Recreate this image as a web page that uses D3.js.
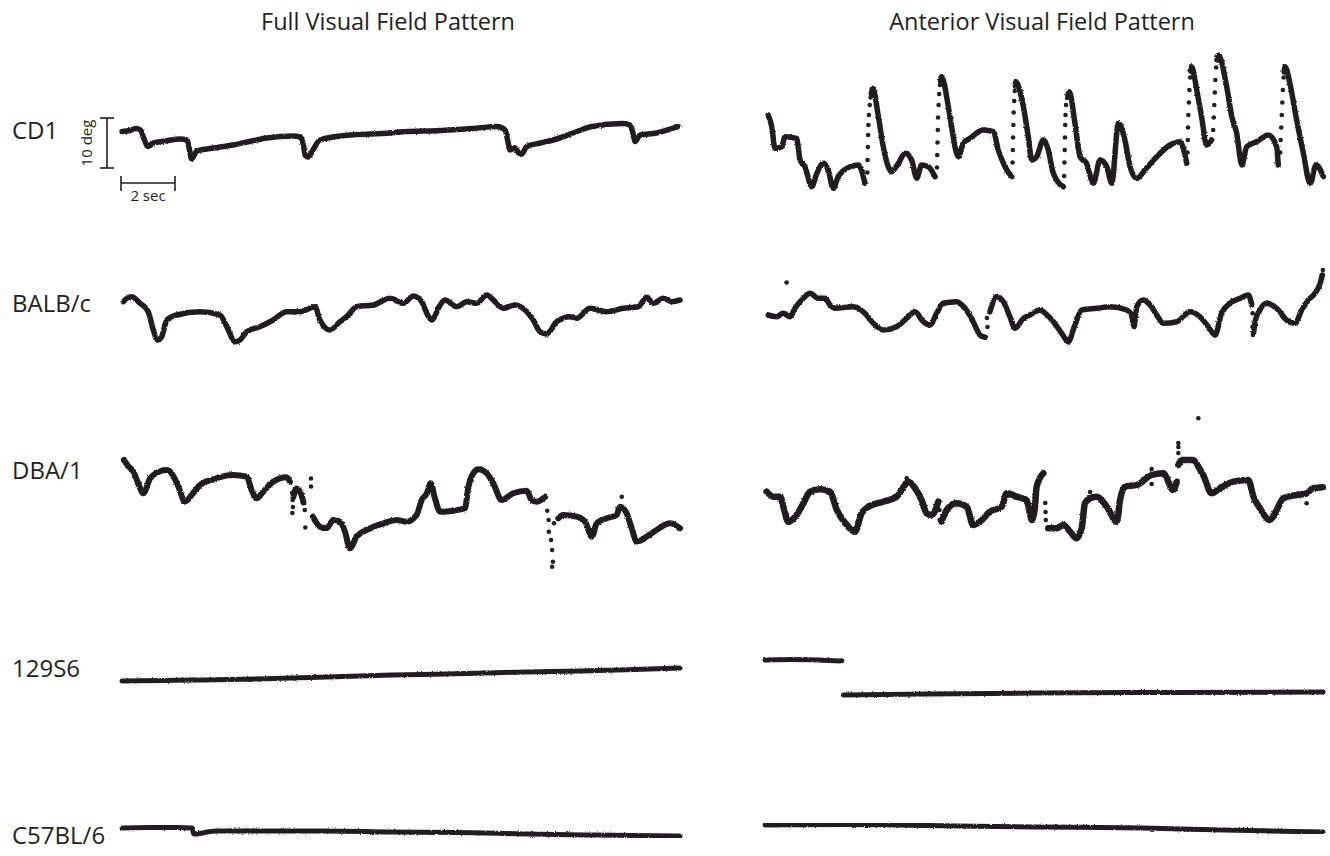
<!DOCTYPE html>
<html>
<head>
<meta charset="utf-8">
<script src="https://cdn.jsdelivr.net/npm/d3@7"></script>
<style>
  html, body { margin: 0; padding: 0; background: #fff; }
  svg { display: block; }
  text { font-family: "Open Sans", "Noto Sans", sans-serif; fill: #231f20; }
</style>
</head>
<body>
<svg id="chart" width="1330" height="856"></svg>
<script>
// Eye position traces (deg) against time (s); null marks a break in the trace.
const panelTitles = ["Full Visual Field Pattern", "Anterior Visual Field Pattern"];
const strains = ["CD1", "BALB/c", "DBA/1", "129S6", "C57BL/6"];
const timeDomain = [0, 20.7];

const cd1Full = [[0,7.7],[0.3,7.9],[0.54,8.3],[0.7,7.9],[0.8,6.5],[0.96,4.7],[1.15,5.4],[1.6,5.8],[2.15,6.2],[2.41,6.0],[2.5,4.0],[2.58,2.2],[2.77,3.8],[3.4,4.4],[4.11,5.0],[4.8,5.8],[5.36,6.4],[6.33,6.8],[6.6,6.6],[6.72,5.0],[6.78,3.0],[6.89,2.6],[7.07,4.0],[7.33,6.0],[8.44,7.0],[9.93,7.4],[10.3,7.6],[11.78,7.9],[13.0,8.3],[13.88,8.7],[14.19,8.0],[14.3,5.5],[14.37,4.0],[14.56,4.4],[14.68,3.5],[14.8,3.2],[14.99,4.7],[15.5,5.4],[16.1,6.2],[16.8,7.6],[17.41,8.7],[18.56,9.3],[18.81,9.0],[18.92,7.5],[19.0,5.7],[19.19,7.0],[19.8,7.4],[20.2,8.0],[20.59,8.7]];
const cd1FullDots = [];

const cd1Anterior = [[0.12,11],[0.25,8.66],[0.37,4.34],[0.62,4.66],[0.74,6.66],[1.17,6.34],[1.3,2],[1.48,0.66],[1.73,-3.34],[1.92,-0.66],[2.16,1.34],[2.34,0],[2.53,-3.66],[2.71,-1.34],[3.15,0.66],[3.46,1],[3.7,-2.66],null,
  [3.94,15.2],[3.99,16.34],[4.2,10.66],[4.38,4.66],[4.69,-0.34],[4.94,1.34],[5.19,3.34],[5.43,2],[5.62,-1.66],[5.8,1],[6.05,0.66],[6.3,-1.34],null,
  [6.5,17.8],[6.54,18.66],[6.79,12.66],[6.91,8.66],[7.16,2.66],[7.34,5.34],[7.59,6.34],[8.09,8],[8.46,7.66],[8.64,4],[8.89,0.66],[9.14,-1.34],null,
  [9.27,16.8],[9.29,17.66],[9.57,12.66],[9.75,6.66],[9.88,2],[10.06,2.66],[10.31,6],[10.49,4],[10.68,-0.66],[11.05,-3.34],null,
  [11.22,15],[11.27,15.66],[11.48,9.34],[11.67,2.66],[11.91,1.34],[12.16,-2.66],[12.41,2],[12.66,0.66],[12.84,-2.66],[13.09,9.34],[13.33,6],[13.52,0.66],[13.77,-1.66],[14.07,0],[14.51,2.66],[15.0,5],[15.37,5.66],[15.62,1.34],null,
  [15.77,19.8],[15.8,20.66],[15.99,16],[16.17,10.66],[16.36,5],[16.54,6],null,
  [16.74,22],[16.79,23],[17.1,16.66],[17.29,10.66],[17.47,7.34],[17.66,1],[17.84,4.66],[18.21,5.66],[18.64,7],[18.95,4.66],[19.01,1],null,
  [19.23,19.6],[19.26,20.66],[19.44,17.34],[19.69,10],[19.94,3.34],[20.19,-2.66],[20.41,1],[20.68,-1.34]];
const cd1AnteriorDots = [[3.79,-0.5],[3.8,2],[3.81,4.6],[3.82,7],[3.83,9],[3.85,11],[3.88,13],[3.91,14.5],
  [6.37,0.5],[6.38,3],[6.39,5.5],[6.4,8],[6.41,10.5],[6.43,13],[6.45,15.2],[6.48,17],
  [9.17,1.5],[9.18,4],[9.19,6.5],[9.2,9],[9.21,11.5],[9.23,13.8],[9.25,15.8],
  [11.08,-1.2],[11.09,1.5],[11.1,4],[11.11,6.5],[11.12,9],[11.13,11],[11.15,13],[11.19,14.4],
  [15.65,3.5],[15.66,6],[15.67,8.5],[15.68,11],[15.7,13.5],[15.72,16],[15.75,18.5],
  [16.6,8],[16.62,10.5],[16.64,13],[16.66,15.5],[16.68,18],[16.71,20.5],
  [19.08,3.5],[19.1,6],[19.12,8.5],[19.14,11],[19.16,13.5],[19.18,16],[19.21,18.5]];

const balbFull = [[0.05,8.66],[0.2,9.4],[0.36,9.66],[0.67,8.34],[0.97,6.66],[1.16,3.0],[1.31,1.0],[1.47,1.66],[1.66,5.0],[2.03,6.0],[2.89,6.66],[3.63,6.0],[3.88,3.66],[4.19,0.66],[4.37,1.0],[4.62,2.66],[5.11,3.66],[5.6,5.0],[6.1,6.66],[6.59,6.66],[7.15,7.66],[7.33,5.0],[7.7,3.0],[8.07,4.66],[8.32,5.66],[8.69,7.66],[9.31,8.0],[9.93,9.34],[10.42,8.34],[10.79,9.8],[11.1,8.66],[11.29,6.34],[11.47,5.0],[11.78,8.0],[11.96,9.0],[12.4,7.66],[12.77,8.66],[13.14,8.34],[13.51,10.0],[13.75,9.0],[14.12,7.34],[14.56,8.0],[14.99,6.66],[15.23,5.0],[15.48,2.66],[15.73,2.2],[16.1,4.66],[16.59,5.66],[16.84,5.34],[17.33,7.34],[17.95,6.66],[18.57,7.34],[19.12,7.66],[19.43,9.54],[19.68,8.34],[20.05,9.34],[20.36,8.66],[20.67,9.0]];
const balbFullDots = [];

const balbAnterior = [[0.12,6.0],[0.43,5.66],[0.68,6.34],[0.93,5.66],[1.11,7.34],[1.42,9.34],[1.67,10.34],[1.97,9.34],[2.22,9.34],[2.41,8.0],[2.59,7.34],[3.27,7.66],[3.7,6.34],[4.01,4.34],[4.38,3.0],[4.88,3.66],[5.25,5.34],[5.56,6.66],[5.86,4.66],[6.11,4.0],[6.36,6.34],[6.6,8.34],[7.1,8.66],[7.41,7.34],[7.71,4.66],[7.96,2.0],[8.15,1.54],null,
  [8.33,6.66],[8.58,9.66],[8.83,8.66],[9.07,5.66],[9.26,3.34],[9.57,5.34],[9.81,6.0],[10.19,7.0],[10.31,6.66],[10.68,4.66],[10.99,2.34],[11.23,0.66],[11.48,4.0],[11.73,7.0],[12.29,7.34],[12.78,7.66],[13.4,7.0],[13.58,6.0],[13.67,3.66],[13.77,7.66],[14.01,9.0],[14.26,8.0],[14.51,6.0],[14.75,4.34],[15.25,4.66],[15.74,6.66],[16.11,5.66],[16.42,3.66],[16.67,2.0],[16.91,6.34],[17.22,8.34],[17.59,9.34],[17.9,10.0],[18.03,8.0],null,
  [18.1,2.5],[18.15,4.66],[18.33,7.0],[18.58,8.34],[18.95,7.34],[19.32,5.0],[19.63,4.34],[19.88,7.0],[20.12,9.0],[20.37,10.34],[20.56,12.34],[20.64,14.0]];
const balbAnteriorDots = [[0.8,12.5],[8.22,5.4],[8.24,3.6],[18.06,6.34],[18.06,3.66],[18.07,2.0],[20.66,15.0]];

const dbaFull = [[0.07,20],[0.23,18.8],[0.42,17.66],[0.6,15.34],[0.79,13.34],[1.04,16.34],[1.29,17.46],[1.66,18],[1.84,17.34],[2.09,14.66],[2.33,11.66],[2.58,13],[2.89,15],[3.38,16.14],[4.12,17],[4.62,16.66],[4.8,14],[4.99,12.34],[5.23,13.66],[5.6,15.66],[6.1,16.54],[6.22,15.66],null,
  [6.35,12.6],[6.45,14.3],[6.55,14.0],[6.67,12.66],[6.72,11.5],null,
  [7.07,8.66],[7.33,6.66],[7.58,6.34],[7.83,8],[8.07,7.66],[8.26,5.66],[8.44,2.34],[8.69,4.66],[9.06,6],[9.68,7.34],[10.17,8],[10.54,7.66],[10.91,9],[11.1,12],[11.29,13.34],[11.43,15.34],[11.59,12.34],[11.78,9.66],[12.27,9.86],[12.7,10.34],[12.83,14.66],[13.01,17.34],[13.2,18.14],[13.51,17.34],[13.75,15.34],[14.06,12],[14.49,13.34],[14.99,13.86],[15.17,12],[15.36,11.66],[15.67,12.66],null,
  [16.16,8.34],[16.34,9],[16.84,8.66],[17.15,7.66],[17.4,4.66],[17.58,7.34],[17.95,8.34],[18.32,9],[18.44,10.66],[18.69,9.34],[18.88,6.34],[19.06,3.66],[19.43,4.66],[19.8,6],[20.3,7.34],[20.67,6.34]];
const dbaFullDots = [[6.3,13.4],[6.32,12],[6.33,10.6],[6.31,9.4],[7.0,16.3],[7.0,14.7],[6.77,10],[6.79,6.5],
  [15.75,9.86],[15.8,8],[15.81,5.66],[15.89,4],[15.93,2],[15.96,-0.34],[15.93,-1.34],[16.0,7.34],[18.51,12.66]];

const dbaAnterior = [[0.06,13.66],[0.31,12.66],[0.56,12.66],[0.68,10.66],[0.86,7.66],[1.17,9],[1.42,11.34],[1.67,13.66],[2.04,14.14],[2.41,13.66],[2.66,10],[3.03,7],[3.33,5.66],[3.58,9.34],[3.83,10.66],[4.38,11.66],[4.88,12.66],[5.06,14],[5.31,15.66],[5.56,14.34],[5.8,12],[5.99,9.34],[6.17,9],[6.42,11.66],null,
  [6.54,7.66],[6.73,10],[7.1,11.34],[7.47,10.66],[7.71,7],[7.96,7.66],[8.33,9.66],[8.77,10.66],[8.95,13.34],[9.32,12.66],[9.69,12],[9.81,9.34],[9.88,8],[10.0,10.66],[10.06,14.66],[10.31,17.34],null,
  [10.49,6.34],[10.8,6.34],[11.05,7],[11.3,5.66],[11.54,4.34],[11.73,6.34],[11.85,11.34],[12.04,12.34],[12.29,12.66],[12.66,10.66],[13.03,7.66],[13.15,12],[13.33,14.66],[13.77,15],[14.32,17],[14.75,17.34],[15.12,14],[15.25,15.66],null,
  [15.31,19],[15.43,20],[15.86,20],[16.05,18.66],[16.23,17],[16.54,13.34],[16.85,14.34],[17.35,15.66],[17.9,16],[18.09,12.66],[18.33,10.34],[18.7,8],[18.95,10],[19.19,12.34],[19.69,13],[20.06,13.34],[20.3,14.34],[20.66,14.54]];
const dbaAnteriorDots = [[5.25,16.34],[6.46,10],[6.47,8],[10.38,11.4],[10.39,9.6],[10.4,8],[15.31,23.4],[15.31,22.6],[15.31,21.4],[16.05,28.34],[14.32,18.2],[14.32,15.2],[12.04,13.6],[20.06,11.34]];

const s129Full = [[0,3.8],[1.5,3.9],[3,4.0],[5,4.2],[7,4.5],[10,5.0],[12,5.2],[15,5.6],[17,5.8],[19,6.1],[20.67,6.4]];
const s129FullDots = [];

const s129Anterior = [[0,8.0],[1.0,8.1],[2.0,8.0],[2.85,7.8],null,[2.9,1.0],[6,1.2],[10,1.4],[15,1.5],[20.67,1.6]];
const s129AnteriorDots = [];

const c57Full = [[0,3.4],[1,3.5],[2,3.5],[2.6,3.4],[2.65,2.2],[3.5,2.8],[5,2.8],[7.5,2.8],[10,2.6],[12.5,2.5],[15,2.2],[17.5,2.0],[20.67,1.8]];
const c57FullDots = [];

const c57Anterior = [[0,4.0],[3,4.1],[6,3.9],[10,3.6],[14,3.4],[17,3.0],[20.67,2.6]];
const c57AnteriorDots = [];

// Assemble rows x panels from the named series above.
const traceTable = [
  [cd1Full, cd1FullDots, cd1Anterior, cd1AnteriorDots],
  [balbFull, balbFullDots, balbAnterior, balbAnteriorDots],
  [dbaFull, dbaFullDots, dbaAnterior, dbaAnteriorDots],
  [s129Full, s129FullDots, s129Anterior, s129AnteriorDots],
  [c57Full, c57FullDots, c57Anterior, c57AnteriorDots]
];

// Layout
const ink = "#231f20";
const pxPerSec = 27, pxPerDeg = 5;
const panelLeft = [122, 765];
const titleX = [388, 1042];
const rowZero = [170, 345, 560, 700, 845];
const labelY = [139, 312, 479, 677, 844];
const strokeWidths = [[5.5, 5.5], [5.5, 5.5], [6, 6.5], [5, 5], [5, 5]];

const svg = d3.select("#chart");

// Slightly ragged edge for the sampled traces.
const defs = svg.append("defs");
const rough = defs.append("filter").attr("id", "rough")
  .attr("x", "-5%").attr("y", "-20%").attr("width", "110%").attr("height", "140%");
rough.append("feTurbulence").attr("type", "fractalNoise").attr("baseFrequency", 0.7)
  .attr("numOctaves", 1).attr("seed", 3).attr("result", "noise");
rough.append("feDisplacementMap").attr("in", "SourceGraphic").attr("in2", "noise")
  .attr("scale", 2.6).attr("xChannelSelector", "R").attr("yChannelSelector", "G");

const xScales = panelLeft.map(x0 =>
  d3.scaleLinear().domain(timeDomain).range([x0, x0 + (timeDomain[1] - timeDomain[0]) * pxPerSec]));
const yScales = rowZero.map(y0 =>
  d3.scaleLinear().domain([0, 10]).range([y0, y0 - 10 * pxPerDeg]));

svg.selectAll("text.title").data(panelTitles).join("text")
  .attr("class", "title")
  .attr("x", (d, i) => titleX[i]).attr("y", 30)
  .attr("text-anchor", "middle").attr("font-size", 23.5)
  .text(d => d);

svg.selectAll("text.strain").data(strains).join("text")
  .attr("class", "strain")
  .attr("x", 12).attr("y", (d, i) => labelY[i])
  .attr("font-size", 24)
  .text(d => d);

traceTable.forEach((row, r) => {
  [0, 1].forEach(p => {
    const line = row[p * 2], dots = row[p * 2 + 1];
    const x = xScales[p], y = yScales[r];
    const gen = d3.line().defined(d => d !== null)
      .x(d => x(d[0])).y(d => y(d[1])).curve(d3.curveMonotoneX);
    svg.append("path").datum(line)
      .attr("filter", "url(#rough)")
      .attr("d", gen)
      .attr("fill", "none").attr("stroke", ink)
      .attr("stroke-width", strokeWidths[r][p])
      .attr("stroke-linejoin", "round").attr("stroke-linecap", "round");
    svg.append("g").selectAll("circle").data(dots).join("circle")
      .attr("cx", d => x(d[0])).attr("cy", d => y(d[1]))
      .attr("r", 2.3).attr("fill", ink);
  });
});

// Scale bars: 10 deg and 2 sec, drawn with the CD1 scales.
const bar = svg.append("g").attr("stroke", ink).attr("stroke-width", 1.6).attr("fill", "none");
const vx = 107, vBottom = 168;
const vLen = yScales[0](0) - yScales[0](10);
bar.append("line").attr("x1", vx).attr("x2", vx).attr("y1", vBottom).attr("y2", vBottom - vLen);
bar.append("line").attr("x1", vx - 7).attr("x2", vx + 7).attr("y1", vBottom).attr("y2", vBottom);
bar.append("line").attr("x1", vx - 7).attr("x2", vx + 7).attr("y1", vBottom - vLen).attr("y2", vBottom - vLen);
svg.append("text").attr("transform", `translate(92,${vBottom - vLen / 2}) rotate(-90)`)
  .attr("text-anchor", "middle").attr("font-size", 15).text("10 deg");

const hx = 121, hy = 183;
const hLen = xScales[0](2) - xScales[0](0);
bar.append("line").attr("x1", hx).attr("x2", hx + hLen).attr("y1", hy).attr("y2", hy);
bar.append("line").attr("x1", hx).attr("x2", hx).attr("y1", hy - 7).attr("y2", hy + 8);
bar.append("line").attr("x1", hx + hLen).attr("x2", hx + hLen).attr("y1", hy - 7).attr("y2", hy + 8);
svg.append("text").attr("x", hx + hLen / 2).attr("y", 201)
  .attr("text-anchor", "middle").attr("font-size", 15).text("2 sec");
</script>
</body>
</html>
